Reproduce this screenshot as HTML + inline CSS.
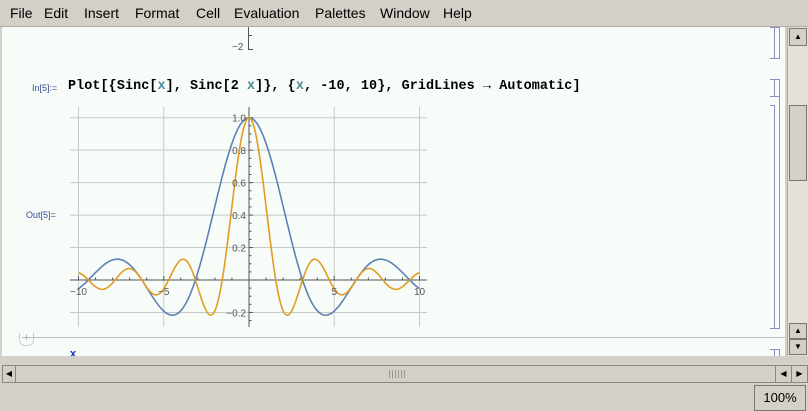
<!DOCTYPE html>
<html><head><meta charset="utf-8"><style>
body{margin:0;width:808px;height:411px;overflow:hidden;background:#d4d0c8;font-family:"Liberation Sans",sans-serif;position:relative}
.menu{position:absolute;left:0;top:0;width:808px;height:26px;background:#d4d0c8;border-bottom:1px solid #b0aca4}
.menu span{position:absolute;top:5px;font-size:14px;color:#000}
.nb{position:absolute;left:2px;top:27px;width:783px;height:329px;background:#f7fcf8;overflow:hidden}
.br{position:absolute;border:1px solid #8a90c8;border-left:none;width:4px}
</style></head><body>
<div class="menu">
<span style="left:10px">File</span>
<span style="left:44px">Edit</span>
<span style="left:84px">Insert</span>
<span style="left:135px">Format</span>
<span style="left:196px">Cell</span>
<span style="left:234px">Evaluation</span>
<span style="left:315px">Palettes</span>
<span style="left:380px">Window</span>
<span style="left:443px">Help</span>
</div>
<div class="nb">
<div style="position:absolute;left:246px;top:0;width:1px;height:23px;background:#555"></div>
<div style="position:absolute;left:246px;top:22px;width:5px;height:1px;background:#555"></div>
<div style="position:absolute;left:246px;top:8px;width:4px;height:1px;background:#555"></div>
<div style="position:absolute;left:230px;top:15px;font-size:10px;color:#555">−2</div>
<div class="br" style="left:768px;top:0;height:30px"></div><div class="br" style="left:773px;top:0;height:30px"></div>
<div style="position:absolute;left:30px;top:56px;font-size:9px;color:#3a4a9a">In[5]:=</div>
<div style="position:absolute;left:66px;top:52px;font-family:'Liberation Mono',monospace;font-weight:bold;font-size:13.4px;letter-spacing:0.1px;color:#000;white-space:pre">Plot[{Sinc[<span style="color:#4a8a9a">x</span>], Sinc[2 <span style="color:#4a8a9a">x</span>]}, {<span style="color:#4a8a9a">x</span>, -10, 10}, GridLines → Automatic]</div>
<div class="br" style="left:768px;top:52px;height:16px"></div><div class="br" style="left:773px;top:52px;height:16px"></div>
<div class="br" style="left:768px;top:78px;height:222px"></div><div class="br" style="left:773px;top:52px;height:248px"></div>
<div style="position:absolute;left:24px;top:183px;font-size:9px;color:#3a4a9a">Out[5]=</div>
<div style="position:absolute;left:20px;top:310px;width:763px;height:1px;background:#bbb"></div>
<div style="position:absolute;left:17px;top:306px;width:13px;height:12px;border:1px solid #ccc;border-top:none;border-radius:0 0 6px 6px;color:#aaa;font-size:11px;text-align:center;line-height:10px">+</div>
<div style="position:absolute;left:68px;top:321px;font-size:11px;color:#1a2ad0;font-weight:bold">x</div>
<div class="br" style="left:768px;top:322px;height:10px"></div><div class="br" style="left:773px;top:322px;height:10px"></div>
</div>
<svg id="chart" style="position:absolute;left:0;top:0" width="808" height="411"></svg>
<div style="position:absolute;left:787px;top:27px;width:20px;height:329px;background:#e4e1da;border-left:1px solid #aaa">
<div style="position:absolute;left:1px;top:1px;width:16px;height:16px;background:#d4d0c8;border:1px solid #777;font-size:8px;text-align:center;line-height:16px">▲</div>
<div style="position:absolute;left:1px;top:78px;width:16px;height:74px;background:#d4d0c8;border:1px solid #777"></div>
<div style="position:absolute;left:1px;top:296px;width:16px;height:14px;background:#d4d0c8;border:1px solid #777;font-size:8px;text-align:center;line-height:14px">▲</div>
<div style="position:absolute;left:1px;top:312px;width:16px;height:14px;background:#d4d0c8;border:1px solid #777;font-size:8px;text-align:center;line-height:14px">▼</div>
</div>
<div style="position:absolute;left:2px;top:365px;width:804px;height:16px;background:#d4d0c8;border:1px solid #888">
<div style="position:absolute;left:0;top:0;width:12px;height:16px;border-right:1px solid #888;font-size:8px;line-height:16px;text-align:center">◀</div>
<div style="position:absolute;left:772px;top:0;width:15px;height:16px;border-left:1px solid #888;border-right:1px solid #888;font-size:8px;line-height:16px;text-align:center">◀</div>
<div style="position:absolute;left:789px;top:0;width:15px;height:16px;font-size:8px;line-height:16px;text-align:center">▶</div>
<div style="position:absolute;left:386px;top:4px;width:18px;height:8px;background:repeating-linear-gradient(90deg,#999 0 1px,transparent 1px 3px)"></div>
</div>
<div style="position:absolute;left:754px;top:385px;width:50px;height:24px;border:1px solid #777;background:#d4d0c8;font-size:13px;line-height:24px;text-align:center">100%</div>
<script>
const xValues=[-10,-9.75,-9.5,-9.25,-9,-8.75,-8.5,-8.25,-8,-7.75,-7.5,-7.25,-7,-6.75,-6.5,-6.25,-6,-5.75,-5.5,-5.25,-5,-4.75,-4.5,-4.25,-4,-3.75,-3.5,-3.25,-3,-2.75,-2.5,-2.25,-2,-1.75,-1.5,-1.25,-1,-0.75,-0.5,-0.25,0,0.25,0.5,0.75,1,1.25,1.5,1.75,2,2.25,2.5,2.75,3,3.25,3.5,3.75,4,4.25,4.5,4.75,5,5.25,5.5,5.75,6,6.25,6.5,6.75,7,7.25,7.5,7.75,8,8.25,8.5,8.75,9,9.25,9.5,9.75,10];
const sincX=[-0.0544,-0.0328,-0.0079,0.0188,0.0458,0.0714,0.0939,0.1119,0.1237,0.1283,0.1251,0.1135,0.0939,0.0667,0.0331,-0.0053,-0.0466,-0.0884,-0.1283,-0.1636,-0.1918,-0.2104,-0.2172,-0.2106,-0.1892,-0.1524,-0.1002,-0.0333,0.0470,0.1388,0.2394,0.3458,0.4546,0.5623,0.6650,0.7592,0.8415,0.9089,0.9589,0.9896,1,0.9896,0.9589,0.9089,0.8415,0.7592,0.6650,0.5623,0.4546,0.3458,0.2394,0.1388,0.0470,-0.0333,-0.1002,-0.1524,-0.1892,-0.2106,-0.2172,-0.2104,-0.1918,-0.1636,-0.1283,-0.0884,-0.0466,-0.0053,0.0331,0.0667,0.0939,0.1135,0.1251,0.1283,0.1237,0.1119,0.0939,0.0714,0.0458,0.0188,-0.0079,-0.0328,-0.0544];
const sinc2X=[0.0456,0.0311,0.0079,-0.0185,-0.0417,-0.0557,-0.0566,-0.0431,-0.0180,0.0133,0.0434,0.0645,0.0708,0.0595,0.0323,-0.0053,-0.0447,-0.0761,-0.0909,-0.0838,-0.0544,-0.0079,0.0458,0.0939,0.1237,0.1251,0.0939,0.0331,-0.0466,-0.1283,-0.1918,-0.2172,-0.1892,-0.1002,0.0470,0.2394,0.4546,0.6650,0.8415,0.9589,1,0.9589,0.8415,0.6650,0.4546,0.2394,0.0470,-0.1002,-0.1892,-0.2172,-0.1918,-0.1283,-0.0466,0.0331,0.0939,0.1251,0.1237,0.0939,0.0458,-0.0079,-0.0544,-0.0838,-0.0909,-0.0761,-0.0447,-0.0053,0.0323,0.0595,0.0708,0.0645,0.0434,0.0133,-0.0180,-0.0431,-0.0566,-0.0557,-0.0417,-0.0185,0.0079,0.0311,0.0456];
const xTicks=[-10,-5,5,10];
const xTickLabels=["−10","−5","5","10"];
const yTicks=[-0.2,0.2,0.4,0.6,0.8,1.0];
const yTickLabels=["−0.2","0.2","0.4","0.6","0.8","1.0"];
const NS='http://www.w3.org/2000/svg';
const svg=document.getElementById('chart');
const sx=v=>249+v*17.05;
const sy=v=>280-v*162.3;
function mk(t,a){const e=document.createElementNS(NS,t);for(const k in a)e.setAttribute(k,a[k]);svg.appendChild(e);return e;}
xTicks.forEach((t,i)=>{const g=mk('line',{x1:sx(t),x2:sx(t),y1:107,y2:327,stroke:'#c8c8c8','stroke-width':1});

});
yTicks.forEach((t,i)=>{const g=mk('line',{x1:70,x2:427,y1:sy(t),y2:sy(t),stroke:'#c8c8c8','stroke-width':1});

});
const xa=mk('line',{x1:70,x2:427,y1:sy(0),y2:sy(0),stroke:'#555','stroke-width':1});


const ya=mk('line',{x1:sx(0),x2:sx(0),y1:107,y2:327,stroke:'#555','stroke-width':1});


for(let v=-10;v<=10;v++){mk('line',{x1:sx(v),x2:sx(v),y1:sy(0),y2:sy(0)-(v%5==0?4:2.5),stroke:'#555'});}
for(let v=-0.25;v<=1.05;v+=0.05){const big=Math.abs(Math.round(v*10)-v*10)<0.01&&Math.round(v*10)%2==0;mk('line',{x1:sx(0),x2:sx(0)+(big?4:2.5),y1:sy(v),y2:sy(v),stroke:'#555'});}
function path(ys,col,name){let d='';const p=xValues.map((x,i)=>[sx(x),sy(ys[i])]);
d='M'+p[0][0]+' '+p[0][1];
for(let i=0;i<p.length-1;i++){const a=p[Math.max(0,i-1)],b=p[i],c=p[i+1],e=p[Math.min(p.length-1,i+2)];
d+=` C${b[0]+(c[0]-a[0])/6} ${b[1]+(c[1]-a[1])/6} ${c[0]-(e[0]-b[0])/6} ${c[1]-(e[1]-b[1])/6} ${c[0]} ${c[1]}`;}
const el=mk('path',{d:d,fill:'none',stroke:col,'stroke-width':1.6});

}
path(sincX,'#5e81b5','series-sinc-x');
path(sinc2X,'#e19c24','series-sinc-2x');
xTicks.forEach((t,i)=>{const e=mk('text',{x:sx(t),y:sy(0)+15,'text-anchor':'middle','font-size':10,fill:'#555','font-family':'Liberation Sans, sans-serif'});e.textContent=xTickLabels[i];

});
yTicks.forEach((t,i)=>{const e=mk('text',{x:sx(0)-3,y:sy(t)+4,'text-anchor':'end','font-size':10,fill:'#555','font-family':'Liberation Sans, sans-serif'});e.textContent=yTickLabels[i];

});
</script>
</body></html>
